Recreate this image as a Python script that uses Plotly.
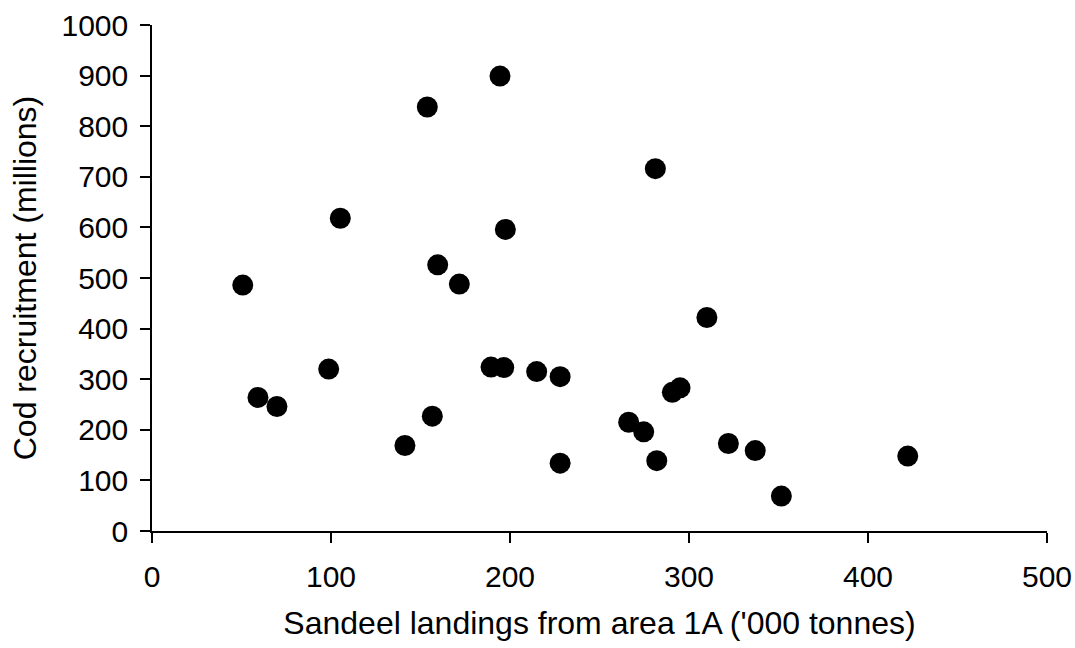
import plotly.graph_objects as go

# Sandeel landings ('000 tonnes)
landings = [153.8, 105.2, 159.6, 50.7, 98.7, 59.2, 69.8, 156.6, 141.3,
            194.4, 281.2, 197.4, 171.7, 189.4, 196.5, 214.9, 228.0, 228.0,
            310.0, 290.7, 295.0, 266.3, 274.7, 282.0, 322.0, 337.0, 351.6, 422.2]
# Cod recruitment (millions)
recruitment = [838, 618, 526, 486, 320, 264, 246, 227, 169,
               899, 716, 596, 488, 324, 323, 315, 305, 134,
               422, 274, 283, 215, 196, 139, 173, 159, 69, 148]

x_ticks = [0, 100, 200, 300, 400, 500]
y_ticks = [0, 100, 200, 300, 400, 500, 600, 700, 800, 900, 1000]

fig = go.Figure()
fig.add_trace(go.Scatter(
    x=landings, y=recruitment, mode="markers",
    marker=dict(color="black", size=21, line=dict(width=0)),
    showlegend=False, cliponaxis=False,
))

font_family = "Liberation Sans, Arial, sans-serif"
fig.update_layout(
    width=1075, height=648,
    margin=dict(l=152, r=28, t=25, b=117),
    paper_bgcolor="white", plot_bgcolor="white",
    font=dict(family=font_family, size=30, color="black"),
    xaxis=dict(
        range=[0, 500], tickvals=x_ticks, ticks="outside", ticklen=10,
        tickwidth=1.5, tickcolor="black", showline=True, linecolor="black",
        linewidth=1.5, showgrid=False, zeroline=False, automargin=False,
        tickfont=dict(size=30), ticklabelstandoff=8,
        title=dict(text="Sandeel landings from area 1A ('000 tonnes)",
                   font=dict(size=32), standoff=20),
    ),
    yaxis=dict(
        range=[0, 1000], tickvals=y_ticks, ticks="outside", ticklen=10,
        tickwidth=1.5, tickcolor="black", showline=True, linecolor="black",
        linewidth=1.5, showgrid=False, zeroline=False, automargin=False,
        tickfont=dict(size=30), ticklabelstandoff=6,
        title=dict(text="Cod recruitment (millions)", font=dict(size=32),
                   standoff=15),
    ),
)

fig.write_html(
    "out.html",
    config={"displayModeBar": False},
    post_script="document.body.style.margin='0';document.documentElement.style.overflow='hidden';",
)
